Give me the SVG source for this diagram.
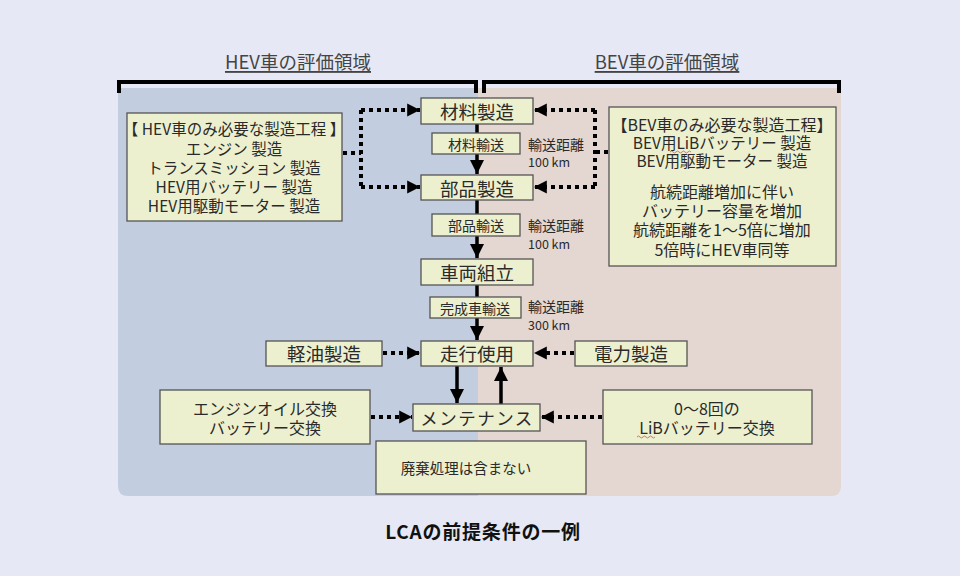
<svg xmlns="http://www.w3.org/2000/svg" width="960" height="576" viewBox="0 0 960 576">
<defs>
<marker id="ah" viewBox="0 0 10 10" refX="10" refY="5" markerWidth="4" markerHeight="4" orient="auto" markerUnits="strokeWidth"><path d="M0,0 L10,5 L0,10 Z" fill="#000"/></marker>
<marker id="ahd" viewBox="0 0 10 10" refX="10" refY="5" markerWidth="3.2" markerHeight="3.6" orient="auto" markerUnits="strokeWidth"><path d="M0,0 L10,5 L0,10 Z" fill="#000"/></marker>
</defs>
<style>
text{font-family:"Noto Sans CJK JP","Noto Sans",sans-serif;fill:#2a2a2a;text-anchor:middle;dominant-baseline:central}
.box{fill:#edf0cf;stroke:#555;stroke-width:1.3}
.big{font-size:18.5px}
.mid{font-size:15.5px}
.sm{font-size:14px}
.note{font-size:12.5px;text-anchor:start}
.solid{stroke:#000;stroke-width:3.5;fill:none}
.dot{stroke:#000;stroke-width:4;stroke-dasharray:4 4;fill:none}
.hd{font-size:18.5px;fill:#444;text-decoration:underline}
</style>
<rect width="960" height="576" fill="#e6e9f5"/>
<path d="M118,88 H478 V496 H128 Q118,496 118,486 Z" fill="#c3cde0"/>
<path d="M478,88 H841 V486 Q841,496 831,496 H478 Z" fill="#e4d6d0"/>
<g id="brackets" fill="none" stroke="#000" stroke-width="4">
<path d="M119,93 V82 H476 V93"/>
<path d="M484,93 V82 H839 V93"/>
</g>
<text class="hd" x="298" y="61">HEV車の評価領域</text>
<text class="hd" x="667" y="61">BEV車の評価領域</text>
<g id="connectors">
<line class="solid" x1="477" y1="124" x2="477" y2="174" marker-end="url(#ah)"/>
<line class="solid" x1="477" y1="200" x2="477" y2="258" marker-end="url(#ah)"/>
<line class="solid" x1="477" y1="285" x2="477" y2="340" marker-end="url(#ah)"/>
<line class="solid" x1="457" y1="366" x2="457" y2="403" marker-end="url(#ah)"/>
<line class="solid" x1="501" y1="404" x2="501" y2="367" marker-end="url(#ah)"/>
<path class="dot" d="M343,153 H361"/>
<path class="dot" d="M361,110 V187"/>
<path class="dot" d="M361,110 H420" marker-end="url(#ahd)"/>
<path class="dot" d="M361,187 H420" marker-end="url(#ahd)"/>
<path class="dot" d="M608,152 H595"/>
<path class="dot" d="M595,110 V187"/>
<path class="dot" d="M595,110 H534" marker-end="url(#ahd)"/>
<path class="dot" d="M595,187 H534" marker-end="url(#ahd)"/>
<path class="dot" d="M383,353 H420" marker-end="url(#ahd)"/>
<path class="dot" d="M574,353 H534" marker-end="url(#ahd)"/>
<path class="dot" d="M371,417 H412" marker-end="url(#ahd)"/>
<path class="dot" d="M602,417 H541" marker-end="url(#ahd)"/>
</g>
<g id="n-zairyo"><rect class="box" x="421" y="98" width="112" height="26"/><text class="big" x="477" y="111">材料製造</text></g>
<g id="n-zairyo-yuso"><rect class="box" x="432" y="133" width="88" height="21"/><text class="sm" x="476" y="144">材料輸送</text></g>
<g id="t1"><text class="sm" x="528" y="144" style="text-anchor:start">輸送距離</text><text class="note" x="528" y="161">100 km</text></g>
<g id="n-buhin"><rect class="box" x="421" y="175" width="112" height="25"/><text class="big" x="477" y="188">部品製造</text></g>
<g id="n-buhin-yuso"><rect class="box" x="432" y="214" width="88" height="22"/><text class="sm" x="476" y="225">部品輸送</text></g>
<g id="t2"><text class="sm" x="528" y="225" style="text-anchor:start">輸送距離</text><text class="note" x="528" y="243">100 km</text></g>
<g id="n-kumitate"><rect class="box" x="421" y="259" width="112" height="26"/><text class="big" x="477" y="272">車両組立</text></g>
<g id="n-kansei"><rect class="box" x="430" y="297" width="91" height="21"/><text class="sm" x="475" y="308">完成車輸送</text></g>
<g id="t3"><text class="sm" x="528" y="306" style="text-anchor:start">輸送距離</text><text class="note" x="528" y="324">300 km</text></g>
<g id="n-soko"><rect class="box" x="421" y="341" width="112" height="25"/><text class="big" x="477" y="353">走行使用</text></g>
<g id="n-maint"><rect class="box" x="413" y="404" width="127" height="27"/><text class="big" x="477" y="417" style="font-size:17.5px;letter-spacing:1.5px">メンテナンス</text></g>
<g id="n-haiki"><rect class="box" x="376" y="441" width="210" height="53"/><text class="mid" x="466" y="467" style="font-size:14.5px">廃棄処理は含まない</text></g>
<g id="n-hev"><rect class="box" x="127" y="113" width="215" height="108"/>
<text class="mid" x="234" y="128">【 HEV車のみ必要な製造工程 】</text>
<text class="mid" x="234" y="148">エンジン 製造</text>
<text class="mid" x="234" y="167">トランスミッション 製造</text>
<text class="mid" x="234" y="186">HEV用バッテリー 製造</text>
<text class="mid" x="234" y="205">HEV用駆動モーター 製造</text></g>
<g id="n-bev"><rect class="box" x="609" y="107" width="227" height="159"/>
<text class="mid" x="722" y="124" style="font-size:16px">【BEV車のみ必要な製造工程】</text>
<text class="mid" x="722" y="142">BEV用LiBバッテリー 製造</text>
<text class="mid" x="722" y="160">BEV用駆動モーター 製造</text>
<text class="mid" x="722" y="191" style="font-size:16px">航続距離増加に伴い</text>
<text class="mid" x="722" y="210" style="font-size:16px">バッテリー容量を増加</text>
<text class="mid" x="722" y="229" style="font-size:16px">航続距離を1～5倍に増加</text>
<text class="mid" x="722" y="249" style="font-size:16px">5倍時にHEV車同等</text>
<path d="M670,152 q1.5,-2 3,0 t3,0 t3,0 t3,0 t3,0 t3,0 t3,0" fill="none" stroke="#d05050" stroke-width="0.8"/></g>
<g id="n-keiyu"><rect class="box" x="266" y="341" width="116" height="25"/><text class="big" x="324" y="353">軽油製造</text></g>
<g id="n-denryoku"><rect class="box" x="575" y="341" width="112" height="25"/><text class="big" x="631" y="353">電力製造</text></g>
<g id="n-oil"><rect class="box" x="160" y="390" width="210" height="54"/>
<text class="mid" x="265" y="408" style="font-size:16px">エンジンオイル交換</text>
<text class="mid" x="265" y="427" style="font-size:16px">バッテリー交換</text></g>
<g id="n-lib"><rect class="box" x="603" y="390" width="209" height="54"/>
<text class="mid" x="707" y="408" style="font-size:16px">0～8回の</text>
<text class="mid" x="707" y="427" style="font-size:16px">LiBバッテリー交換</text>
<path d="M637,437 q1.5,-2 3,0 t3,0 t3,0 t3,0 t3,0 t3,0" fill="none" stroke="#d05050" stroke-width="0.8"/></g>
<text x="483" y="530" style="font-size:19px;font-weight:bold;fill:#111;letter-spacing:0.8px">LCAの前提条件の一例</text>
</svg>
